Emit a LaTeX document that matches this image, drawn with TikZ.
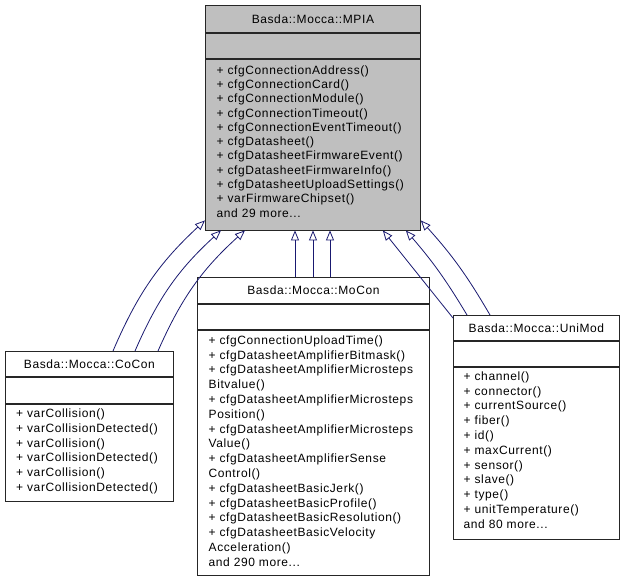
\documentclass[tikz,border=0pt]{standalone}
\usepackage{fontspec}
\setmainfont{Liberation Sans}[LetterSpace=5]
\usetikzlibrary{arrows.meta,calc}
\definecolor{edgeblue}{HTML}{191970}
\definecolor{basegray}{HTML}{BFBFBF}
\tikzset{
  part/.style={draw=black!85, line width=0.8pt, fill=white, rectangle, inner sep=0pt, anchor=north west, font=\fontsize{12}{14}\selectfont},
  basepart/.style={part, fill=basegray},
  members/.style={anchor=north west, inner sep=0pt, align=left, font=\fontsize{12}{14.8}\selectfont},
  inherit/.style={draw=edgeblue, line width=0.8pt, -{Triangle[open, length=10pt, width=8pt]}},
}
\begin{document}
\begin{tikzpicture}[x=1pt,y=1pt]
\useasboundingbox (0,0) rectangle (624,-580);

% Base class MPIA
\node[basepart, minimum width=215pt, minimum height=27pt] (mpiat) at (205,-5) {Basda::Mocca::MPIA};
\node[basepart, minimum width=215pt, minimum height=25pt] (mpiaa) at (mpiat.south west) {};
\node[basepart, minimum width=215pt, minimum height=171pt] (mpiam) at (mpiaa.south west) {};
\node[members, font=\fontsize{12}{14.3}\selectfont] (mpiatext) at (216.5,-64) {\rule{0pt}{10pt}+ cfgConnectionAddress()\\
+ cfgConnectionCard()\\
+ cfgConnectionModule()\\
+ cfgConnectionTimeout()\\
+ cfgConnectionEventTimeout()\\
+ cfgDatasheet()\\
+ cfgDatasheetFirmwareEvent()\\
+ cfgDatasheetFirmwareInfo()\\
+ cfgDatasheetUploadSettings()\\
+ varFirmwareChipset()\\
and 29 more...};

% CoCon
\node[part, minimum width=168pt, minimum height=25pt] (cocont) at (5,-351) {Basda::Mocca::CoCon};
\node[part, minimum width=168pt, minimum height=26pt] (cocona) at (cocont.south west) {};
\node[part, minimum width=168pt, minimum height=97pt] (coconm) at (cocona.south west) {};
\node[members] (cocontext) at (16,-407.3) {\rule{0pt}{10pt}+ varCollision()\\
+ varCollisionDetected()\\
+ varCollision()\\
+ varCollisionDetected()\\
+ varCollision()\\
+ varCollisionDetected()};

% MoCon
\node[part, minimum width=232pt, minimum height=26pt] (mocont) at (197,-277) {Basda::Mocca::MoCon};
\node[part, minimum width=232pt, minimum height=25pt] (mocona) at (mocont.south west) {};
\node[part, minimum width=232pt, minimum height=245pt] (moconm) at (mocona.south west) {};
\node[members] (mocontext) at (208.5,-334) {\rule{0pt}{10pt}+ cfgConnectionUploadTime()\\
+ cfgDatasheetAmplifierBitmask()\\
+ cfgDatasheetAmplifierMicrosteps\\
Bitvalue()\\
+ cfgDatasheetAmplifierMicrosteps\\
Position()\\
+ cfgDatasheetAmplifierMicrosteps\\
Value()\\
+ cfgDatasheetAmplifierSense\\
Control()\\
+ cfgDatasheetBasicJerk()\\
+ cfgDatasheetBasicProfile()\\
+ cfgDatasheetBasicResolution()\\
+ cfgDatasheetBasicVelocity\\
Acceleration()\\
and 290 more...};

% UniMod
\node[part, minimum width=166pt, minimum height=25pt] (unit) at (453,-315) {Basda::Mocca::UniMod};
\node[part, minimum width=166pt, minimum height=25pt] (unia) at (unit.south west) {};
\node[part, minimum width=166pt, minimum height=172pt] (unim) at (unia.south west) {};
\node[members] (unitext) at (463.5,-370) {\rule{0pt}{10pt}+ channel()\\
+ connector()\\
+ currentSource()\\
+ fiber()\\
+ id()\\
+ maxCurrent()\\
+ sensor()\\
+ slave()\\
+ type()\\
+ unitTemperature()\\
and 80 more...};

% Inheritance edges
\draw[inherit] ($(cocont.north west)+(108,0)$) to[bend left=12] ($(mpiam.south west)+(0,10)$);
\draw[inherit] ($(cocont.north west)+(130,0)$) to[bend left=12] ($(mpiam.south west)+(16,0)$);
\draw[inherit] ($(cocont.north west)+(153,0)$) to[bend left=12] ($(mpiam.south west)+(40,0)$);

\draw[inherit] ($(mocont.north west)+(98,0)$) -- ($(mpiam.south west)+(90,0)$);
\draw[inherit] ($(mocont.north west)+(116,0)$) -- ($(mpiam.south west)+(108,0)$);
\draw[inherit] ($(mocont.north west)+(133,0)$) -- ($(mpiam.south west)+(125,0)$);

\draw[inherit] ($(unit.north west)+(0,-3)$) -- ($(mpiam.south east)+(-38,0)$);
\draw[inherit] ($(unit.north west)+(14,0)$) to[bend right=5] ($(mpiam.south east)+(-15,0)$);
\draw[inherit] ($(unit.north west)+(37,0)$) to[bend right=6] ($(mpiam.south east)+(0,10)$);
\end{tikzpicture}
\end{document}
